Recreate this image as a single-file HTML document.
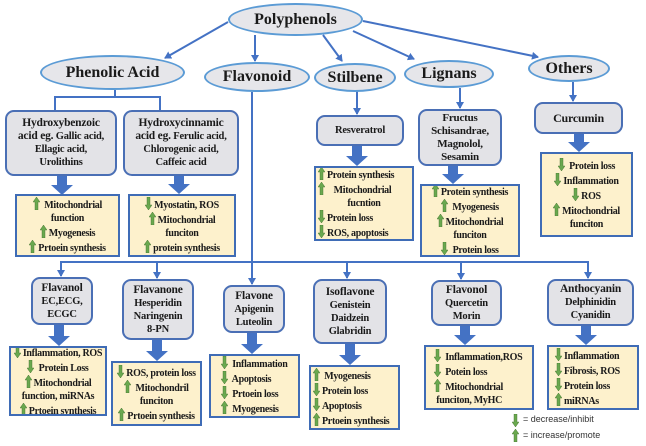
<!DOCTYPE html>
<html><head><meta charset="utf-8"><style>
body{margin:0;width:646px;height:446px;background:#fff;position:relative;overflow:hidden;font-family:"Liberation Serif",serif;font-weight:bold;color:#1a1a1a}
.e{position:absolute;border:2px solid #5b9bd5;background:#e6e6ea;border-radius:50%;box-sizing:border-box;display:flex;align-items:center;justify-content:center;font-size:16px}
.g{position:absolute;border:2px solid #4a6fb5;background:#e3e3e7;border-radius:9px;box-sizing:border-box;display:flex;flex-direction:column;align-items:center;justify-content:center;text-align:center;font-size:10.5px;line-height:13px;white-space:nowrap;letter-spacing:-0.2px}
.g b{font-size:11.5px}
.y{position:absolute;border:2px solid #3f6cb6;background:#fdf1cc;box-sizing:border-box;font-size:10px;line-height:13px;padding:1px 2px;text-align:center;display:flex;flex-direction:column;justify-content:center;white-space:nowrap;letter-spacing:-0.3px;overflow:hidden}
.u,.d{display:inline-block;width:7px;height:13px;vertical-align:-2px;margin-right:2px}
svg.m{position:absolute;left:0;top:0}
.l{position:absolute;font-family:"Liberation Sans",sans-serif;font-weight:normal;font-size:9px;color:#333}
</style></head><body>
<svg class="m" width="646" height="446">
<defs>
<marker id="a" markerWidth="8" markerHeight="8" refX="6" refY="4" orient="auto" markerUnits="userSpaceOnUse"><path d="M0,0 L7,4 L0,8 z" fill="#4472c4"/></marker>
<symbol id="up" viewBox="0 0 7 13"><path d="M3.5,0 L7,5 L5,5 L5,13 L2,13 L2,5 L0,5 z" fill="#6aa84f" stroke="#3d6b2a" stroke-width=".4"/></symbol>
<symbol id="dn" viewBox="0 0 7 13"><path d="M3.5,13 L7,8 L5,8 L5,0 L2,0 L2,8 L0,8 z" fill="#6aa84f" stroke="#3d6b2a" stroke-width=".4"/></symbol>
</defs>
<g stroke="#4472c4" stroke-width="2" fill="none">
<line x1="228" y1="22" x2="165" y2="58" marker-end="url(#a)"/>
<line x1="255" y1="35" x2="255" y2="61" marker-end="url(#a)"/>
<line x1="323" y1="35" x2="342" y2="61" marker-end="url(#a)"/>
<line x1="353" y1="31" x2="414" y2="59" marker-end="url(#a)"/>
<line x1="363" y1="21" x2="538" y2="57" marker-end="url(#a)"/>
<polyline points="115,90 115,97 55,97 55,110"/>
<polyline points="115,97 160,97 160,110"/>
<line x1="357" y1="90" x2="357" y2="114" marker-end="url(#a)"/>
<line x1="460" y1="88" x2="460" y2="108" marker-end="url(#a)"/>
<line x1="573" y1="82" x2="573" y2="101" marker-end="url(#a)"/>
<line x1="252" y1="92" x2="252" y2="284" marker-end="url(#a)"/>
<line x1="61" y1="262" x2="588" y2="262"/>
<line x1="61" y1="261" x2="61" y2="276" marker-end="url(#a)"/>
<line x1="157" y1="261" x2="157" y2="278" marker-end="url(#a)"/>
<line x1="347" y1="261" x2="347" y2="278" marker-end="url(#a)"/>
<line x1="461" y1="261" x2="461" y2="279" marker-end="url(#a)"/>
<line x1="588" y1="261" x2="588" y2="278" marker-end="url(#a)"/>
</g>
<g fill="#4472c4">
<path d="M57,176 h10 v9 h6 l-11,10 l-11,-10 h6 z"/>
<path d="M174,176 h10 v8 h6 l-11,10 l-11,-10 h6 z"/>
<path d="M352,146 h10 v10 h6 l-11,10 l-11,-10 h6 z"/>
<path d="M448,166 h10 v8 h6 l-11,10 l-11,-10 h6 z"/>
<path d="M574,134 h10 v8 h6 l-11,10 l-11,-10 h6 z"/>
<path d="M54,325 h10 v11 h6 l-11,10 l-11,-10 h6 z"/>
<path d="M152,340 h10 v11 h6 l-11,10 l-11,-10 h6 z"/>
<path d="M247,333 h10 v11 h6 l-11,10 l-11,-10 h6 z"/>
<path d="M345,344 h10 v11 h6 l-11,10 l-11,-10 h6 z"/>
<path d="M460,326 h10 v9 h6 l-11,10 l-11,-10 h6 z"/>
<path d="M581,326 h10 v9 h6 l-11,10 l-11,-10 h6 z"/>
</g>
<use href="#dn" x="512" y="414" width="7" height="13"/>
<use href="#up" x="512" y="429" width="7" height="13"/>
</svg>

<div class="e" style="left:228px;top:3px;width:135px;height:33px">Polyphenols</div>
<div class="e" style="left:40px;top:55px;width:145px;height:35px">Phenolic Acid</div>
<div class="e" style="left:204px;top:62px;width:106px;height:30px">Flavonoid</div>
<div class="e" style="left:314px;top:63px;width:82px;height:29px">Stilbene</div>
<div class="e" style="left:404px;top:60px;width:90px;height:28px">Lignans</div>
<div class="e" style="left:528px;top:55px;width:82px;height:27px">Others</div>

<div class="g" style="left:5px;top:110px;width:112px;height:66px"><b>Hydroxybenzoic</b><span><b>acid eg.</b> Gallic acid,</span><span>Ellagic acid,</span><span>Urolithins</span></div>
<div class="g" style="left:123px;top:110px;width:116px;height:66px"><b>Hydroxycinnamic</b><span><b>acid eg.</b> Ferulic acid,</span><span>Chlorogenic acid,</span><span>Caffeic acid</span></div>
<div class="g" style="left:316px;top:115px;width:88px;height:31px">Resveratrol</div>
<div class="g" style="left:418px;top:109px;width:84px;height:57px;font-size:11px">Fructus<br>Schisandrae,<br>Magnolol,<br>Sesamin</div>
<div class="g" style="left:534px;top:102px;width:89px;height:32px;font-size:12px">Curcumin</div>

<div class="y" style="left:15px;top:194px;width:105px;height:63px"><div><svg class="u"><use href="#up" width="7" height="13"/></svg> Mitochondrial</div><div>function</div><div><svg class="u"><use href="#up" width="7" height="13"/></svg>Myogenesis</div><div><svg class="u"><use href="#up" width="7" height="13"/></svg>Prtoein synthesis</div></div>
<div class="y" style="left:128px;top:194px;width:108px;height:63px"><div><svg class="d"><use href="#dn" width="7" height="13"/></svg>Myostatin, ROS</div><div><svg class="u"><use href="#up" width="7" height="13"/></svg>Mitochondrial</div><div>funciton</div><div><svg class="u"><use href="#up" width="7" height="13"/></svg>protein synthesis</div></div>
<div class="y" style="left:314px;top:166px;width:100px;height:75px;text-align:left"><div><svg class="u"><use href="#up" width="7" height="13"/></svg>Protein synthesis</div><div><svg class="u"><use href="#up" width="7" height="13"/></svg>&nbsp;&nbsp; Mitochondrial</div><div style="text-align:center">fucntion</div><div><svg class="d"><use href="#dn" width="7" height="13"/></svg>Protein loss</div><div><svg class="d"><use href="#dn" width="7" height="13"/></svg>ROS, apoptosis</div></div>
<div class="y" style="left:420px;top:184px;width:100px;height:73px"><div><svg class="u"><use href="#up" width="7" height="13"/></svg>Protein synthesis</div><div><svg class="u"><use href="#up" width="7" height="13"/></svg> Myogenesis</div><div><svg class="u"><use href="#up" width="7" height="13"/></svg>Mitochondrial</div><div>funciton</div><div><svg class="d"><use href="#dn" width="7" height="13"/></svg> Protein loss</div></div>
<div class="y" style="left:540px;top:152px;width:93px;height:85px"><div><svg class="d"><use href="#dn" width="7" height="13"/></svg> Protein loss</div><div><svg class="d"><use href="#dn" width="7" height="13"/></svg>Inflammation</div><div><svg class="d"><use href="#dn" width="7" height="13"/></svg>ROS</div><div><svg class="u"><use href="#up" width="7" height="13"/></svg>Mitochondrial</div><div>funciton</div></div>

<div class="g" style="left:31px;top:277px;width:62px;height:48px"><b>Flavanol</b><span>EC,ECG,</span><span>ECGC</span></div>
<div class="g" style="left:122px;top:279px;width:72px;height:61px"><b>Flavanone</b><span>Hesperidin</span><span>Naringenin</span><span>8-PN</span></div>
<div class="g" style="left:223px;top:285px;width:62px;height:48px"><b>Flavone</b><span>Apigenin</span><span>Luteolin</span></div>
<div class="g" style="left:313px;top:279px;width:74px;height:65px"><b>Isoflavone</b><span>Genistein</span><span>Daidzein</span><span>Glabridin</span></div>
<div class="g" style="left:431px;top:280px;width:71px;height:46px"><b>Flavonol</b><span>Quercetin</span><span>Morin</span></div>
<div class="g" style="left:547px;top:279px;width:87px;height:47px"><b>Anthocyanin</b><span>Delphinidin</span><span>Cyanidin</span></div>

<div class="y" style="left:9px;top:346px;width:98px;height:70px"><div><svg class="d"><use href="#dn" width="7" height="13"/></svg>Inflammation, ROS</div><div><svg class="d"><use href="#dn" width="7" height="13"/></svg> Protein Loss</div><div><svg class="u"><use href="#up" width="7" height="13"/></svg>Mitochondrial</div><div>function, miRNAs</div><div><svg class="u"><use href="#up" width="7" height="13"/></svg>Prtoein synthesis</div></div>
<div class="y" style="left:111px;top:361px;width:91px;height:65px"><div><svg class="d"><use href="#dn" width="7" height="13"/></svg>ROS, protein loss</div><div><svg class="u"><use href="#up" width="7" height="13"/></svg> Mitochondril</div><div>funciton</div><div><svg class="u"><use href="#up" width="7" height="13"/></svg>Prtoein synthesis</div></div>
<div class="y" style="left:209px;top:354px;width:91px;height:64px;text-align:left;padding-left:10px"><div><svg class="d"><use href="#dn" width="7" height="13"/></svg> Inflammation</div><div><svg class="d"><use href="#dn" width="7" height="13"/></svg> Apoptosis</div><div><svg class="d"><use href="#dn" width="7" height="13"/></svg> Prtoein loss</div><div><svg class="u"><use href="#up" width="7" height="13"/></svg> Myogenesis</div></div>
<div class="y" style="left:309px;top:365px;width:91px;height:65px;text-align:left"><div><svg class="u"><use href="#up" width="7" height="13"/></svg> Myogenesis</div><div><svg class="d"><use href="#dn" width="7" height="13"/></svg>Protein loss</div><div><svg class="d"><use href="#dn" width="7" height="13"/></svg>Apoptosis</div><div><svg class="u"><use href="#up" width="7" height="13"/></svg>Prtoein synthesis</div></div>
<div class="y" style="left:424px;top:345px;width:110px;height:65px;text-align:left;padding-left:8px"><div><svg class="d"><use href="#dn" width="7" height="13"/></svg> Inflammation,ROS</div><div><svg class="d"><use href="#dn" width="7" height="13"/></svg> Potein loss</div><div><svg class="u"><use href="#up" width="7" height="13"/></svg> Mitochondrial</div><div>&nbsp;funciton, MyHC</div></div>
<div class="y" style="left:547px;top:345px;width:92px;height:65px;text-align:left;padding-left:6px"><div><svg class="d"><use href="#dn" width="7" height="13"/></svg>Inflammation</div><div><svg class="d"><use href="#dn" width="7" height="13"/></svg>Fibrosis, ROS</div><div><svg class="d"><use href="#dn" width="7" height="13"/></svg>Protein loss</div><div><svg class="u"><use href="#up" width="7" height="13"/></svg>miRNAs</div></div>

<div class="l" style="left:523px;top:414px">= decrease/inhibit</div>
<div class="l" style="left:523px;top:430px">= increase/promote</div>
</body></html>
